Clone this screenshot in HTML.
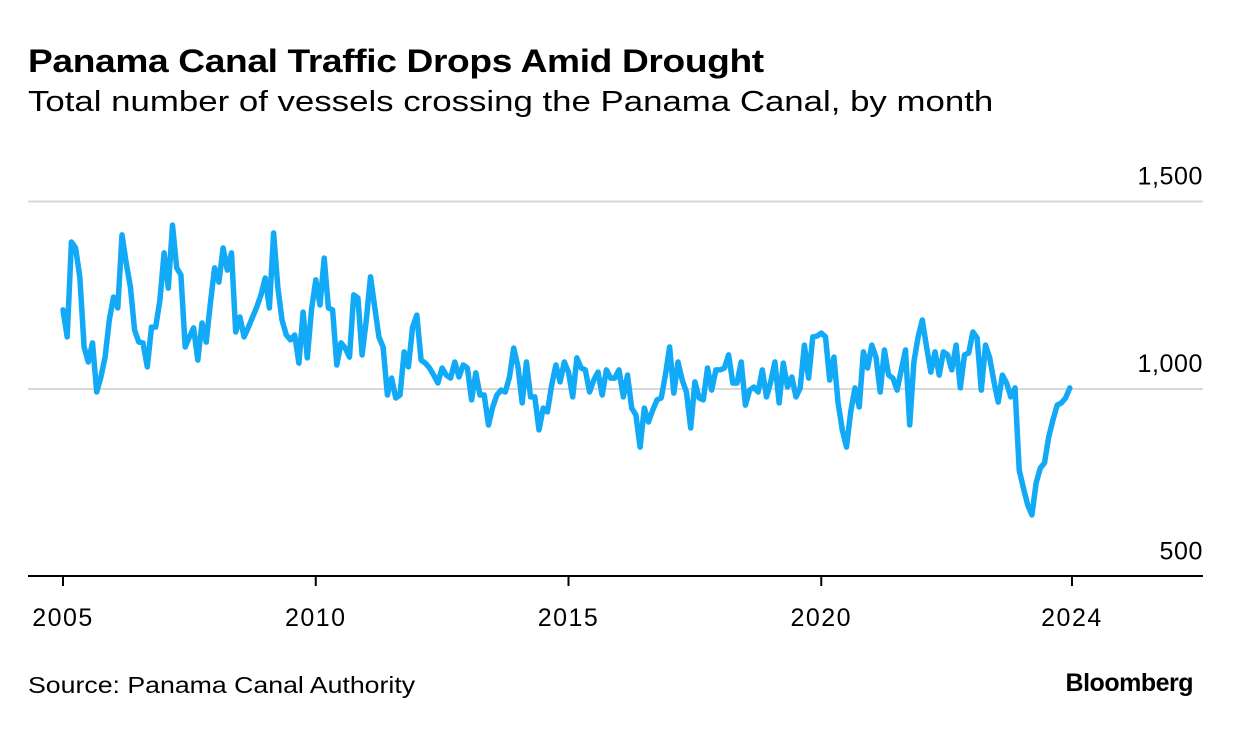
<!DOCTYPE html>
<html><head><meta charset="utf-8"><style>
body{margin:0;background:#fff;font-family:"Liberation Sans",sans-serif;}
#wrap{position:relative;width:1233px;height:742px;overflow:hidden;}
.t{position:absolute;white-space:nowrap;color:#000;transform-origin:0 0;}
</style></head><body>
<div id="wrap">
<div class="t" style="left:28px;top:43px;font-size:32px;font-weight:bold;letter-spacing:-0.3px;transform:scaleX(1.16)">Panama Canal Traffic Drops Amid Drought</div>
<div class="t" style="left:28px;top:86px;font-size:29px;transform:scaleX(1.2)">Total number of vessels crossing the Panama Canal, by month</div>
<svg id="chart" width="1233" height="742" style="position:absolute;left:0;top:0"></svg>
<div class="t" style="left:28px;top:672px;font-size:23px;transform:scaleX(1.16)">Source: Panama Canal Authority</div>
<div class="t" style="right:40px;top:669px;font-size:25px;font-weight:bold;letter-spacing:-0.5px">Bloomberg</div>
</div>
<script>
const startYear = 2005;
const vessels = [1211,1139,1392,1376,1299,1112,1072,1123,992,1032,1085,1184,
1245,1216,1411,1336,1272,1157,1125,1123,1059,1165,1165,1237,
1363,1269,1437,1323,1304,1112,1139,1163,1077,1176,1125,1229,
1323,1285,1376,1317,1363,1152,1192,1139,1165,1192,1219,1251,
1296,1216,1416,1272,1184,1144,1131,1144,1069,1205,1083,1211,
1291,1224,1349,1216,1211,1064,1123,1109,1085,1251,1243,1091,
1184,1299,1219,1139,1112,984,1029,976,984,1099,1059,1165,
1197,1077,1069,1056,1037,1016,1056,1037,1029,1072,1032,1064,
1056,971,1043,984,984,904,952,984,997,992,1032,1109,
1059,963,1072,979,979,891,949,939,1011,1064,1019,1072,
1045,979,1083,1056,1051,992,1024,1045,984,1051,1029,1029,
1051,979,1037,949,931,845,949,912,944,971,976,1037,
1112,989,1072,1024,992,896,1019,976,971,1056,997,1051,
1051,1056,1091,1016,1016,1072,957,997,1005,992,1051,979,
1019,1072,963,1069,1005,1032,979,1003,1117,1029,1139,1141,
1149,1139,1024,1085,963,891,845,939,1003,952,1099,1056,
1117,1085,992,1104,1037,1029,997,1051,1104,904,1072,1139,
1184,1112,1045,1099,1037,1099,1091,1051,1117,1003,1091,1096,
1152,1136,997,1117,1083,1019,965,1037,1016,979,1003,784,
736,691,664,749,789,803,872,917,957,963,976,1003];
const yTicks = [500,1000,1500];
const yTickLabels = ["500","1,000","1,500"];
const xTickYears = [2005,2010,2015,2020,2024.96];
const xTickLabels = ["2005","2010","2015","2020","2024"];

const NS="http://www.w3.org/2000/svg";
const svg=document.getElementById('chart');
const x0=63, pxPerYear=50.55, y1000=389, pxPerUnit=0.375;
const xs=yr=>x0+(yr-startYear)*pxPerYear;
const ys=v=>y1000-(v-1000)*pxPerUnit;
function mk(t,a){const e=document.createElementNS(NS,t);for(const k in a)e.setAttribute(k,a[k]);svg.appendChild(e);return e;}

yTicks.forEach((v,i)=>{
  if(v>500){
    const g=mk('line',{x1:28,x2:1203,y1:ys(v),y2:ys(v),stroke:'#d9d9d9','stroke-width':2});
    
    
  }
  const t=mk('text',{x:1203,y:ys(v)-17,'text-anchor':'end','font-size':25,'letter-spacing':0.6,'font-family':'Liberation Sans, sans-serif',fill:'#000'});
  t.textContent=yTickLabels[i];
  
  
});
const ax=mk('line',{x1:28,x2:1203,y1:576,y2:576,stroke:'#000','stroke-width':2});


xTickYears.forEach((yr,i)=>{
  const tk=mk('line',{x1:xs(yr),x2:xs(yr),y1:576,y2:586,stroke:'#000','stroke-width':2});
  
  
  const t=mk('text',{x:xs(yr),y:626,'text-anchor':'middle','font-size':25,'letter-spacing':1.5,'font-family':'Liberation Sans, sans-serif',fill:'#000'});
  t.textContent=xTickLabels[i];
  
  
});
const pts=vessels.map((v,i)=>xs(startYear+i/12).toFixed(1)+','+ys(v).toFixed(1)).join(' ');
const pl=mk('polyline',{points:pts,fill:'none',stroke:'#12a9f7','stroke-width':5.5,'stroke-linejoin':'round','stroke-linecap':'round'});


</script>
</body></html>
